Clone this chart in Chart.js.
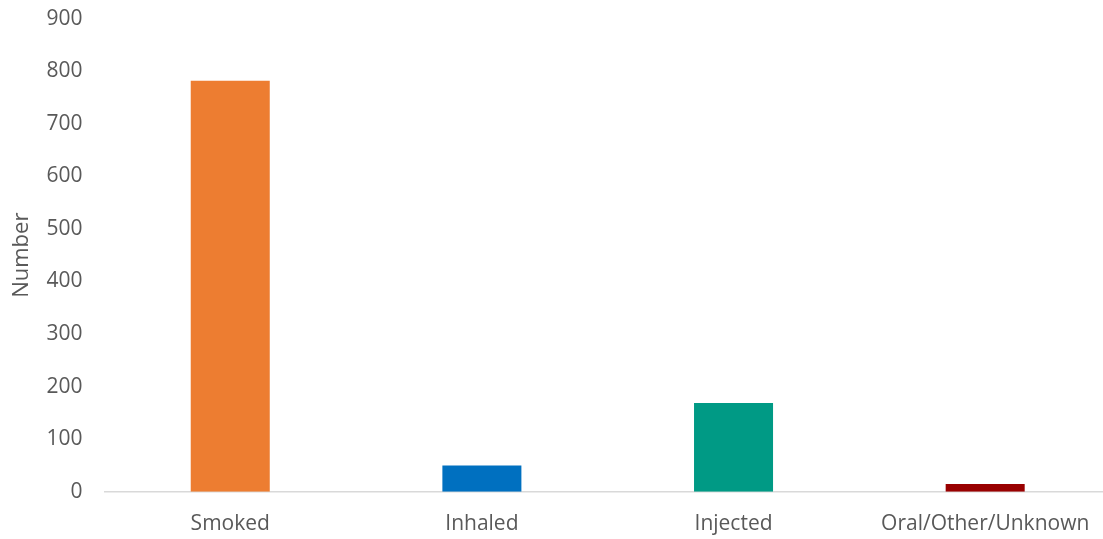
<!DOCTYPE html>
<html>
<head>
<meta charset="utf-8">
<script src="https://cdn.jsdelivr.net/npm/chart.js@4"></script>
<style>
    html, body { margin: 0; padding: 0; background: #fff; overflow: hidden; }
    #wrap { width: 1111px; height: 573px; margin-top: -16px; position: relative; }
</style>
</head>
<body>
<div id="wrap"><canvas id="barChart"></canvas></div>
<script>
const categories = ['Smoked', 'Inhaled', 'Injected', 'Oral/Other/Unknown'];
const counts = [782, 50, 169, 15];
const barColors = ['#ED7D31', '#0070C0', '#009A85', '#990000'];
const yTicks = [0, 100, 200, 300, 400, 500, 600, 700, 800, 900];

document.addEventListener('DOMContentLoaded', function() {
    generateBarChart();
});

function generateBarChart() {
    const ctx = document.getElementById('barChart').getContext('2d');
    new Chart(ctx, {
        type: 'bar',
        data: {
            labels: categories,
            datasets: [{
                label: 'Number',
                data: counts,
                backgroundColor: barColors,
                barPercentage: 0.314,
                categoryPercentage: 1
            }]
        },
        options: {
            responsive: true,
            maintainAspectRatio: false,
            animation: false,
            layout: { padding: { top: 2, left: 0, right: 0, bottom: 0 } },
            plugins: {
                legend: { display: false },
                tooltip: { enabled: false }
            },
            scales: {
                x: {
                    grid: { display: false, drawTicks: false },
                    border: { display: true, color: '#d9d9d9', width: 1.5 },
                    ticks: {
                        color: '#595959',
                        padding: 20,
                        font: { family: 'Open Sans', size: 21 }
                    }
                },
                y: {
                    min: 0,
                    max: 900,
                    afterBuildTicks: axis => { axis.ticks = yTicks.map(v => ({ value: v })); },
                    grid: { display: false, drawTicks: false },
                    border: { display: false },
                    ticks: {
                        color: '#595959',
                        padding: 22,
                        font: { family: 'Open Sans', size: 21 }
                    },
                    title: {
                        display: true,
                        text: 'Number',
                        color: '#595959',
                        padding: { top: 9, bottom: -11 },
                        font: { family: 'Open Sans', size: 22 }
                    }
                }
            }
        }
    });
}
</script>
</body>
</html>
